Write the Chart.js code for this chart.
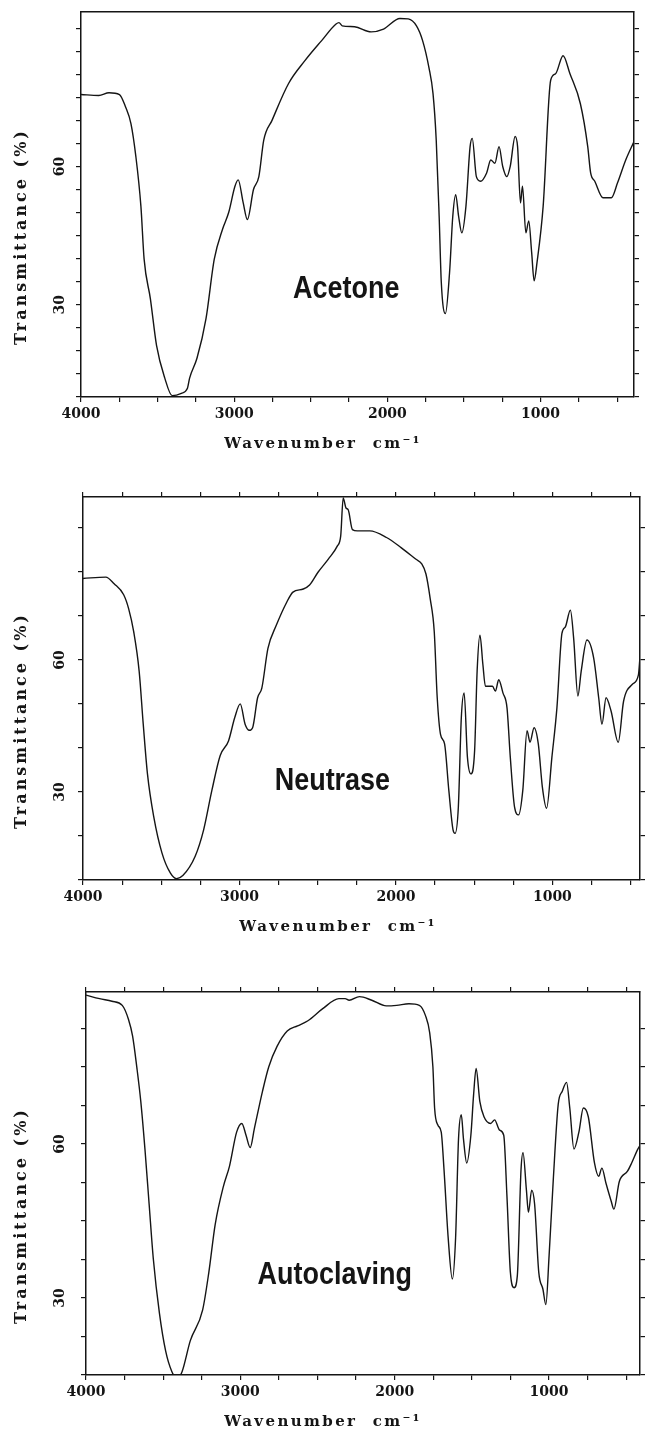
<!DOCTYPE html>
<html>
<head>
<meta charset="utf-8">
<script src="https://cdn.jsdelivr.net/npm/chart.js"></script>
<style>
  html, body { margin: 0; padding: 0; background: #fff; }
  body { width: 646px; height: 1439px; position: relative; overflow: hidden; }
  .panel { position: absolute; left: 0; width: 646px; }
</style>
</head>
<body>
<div class="panel" style="top:0;height:465px"><canvas id="c1"></canvas></div>
<div class="panel" style="top:465px;height:490px"><canvas id="c2"></canvas></div>
<div class="panel" style="top:955px;height:484px"><canvas id="c3"></canvas></div>
<script>
// tick labels
const xTickLabels = [4000, 3000, 2000, 1000];
const yTickLabels = [30, 60];

// Acetone spectrum (wavenumber, transmittance %)
const acetoneWn = [4000, 3884, 3817, 3749, 3709, 3674, 3642, 3609, 3588, 3547, 3507, 3453, 3405, 3345, 3305, 3291, 3243, 3184, 3130, 3076, 3036, 2995, 2974, 2941, 2914, 2874, 2839, 2807, 2753, 2645, 2537, 2429, 2335, 2316, 2295, 2214, 2106, 2025, 1918, 1864, 1810, 1770, 1729, 1702, 1681, 1662, 1648, 1621, 1594, 1573, 1554, 1535, 1514, 1487, 1460, 1446, 1419, 1392, 1352, 1325, 1298, 1271, 1247, 1220, 1198, 1166, 1150, 1131, 1118, 1096, 1077, 1058, 1042, 1023, 983, 934, 902, 853, 808, 740, 692, 673, 646, 592, 538, 498, 444, 390];
const acetoneT = [75.6, 75.4, 76.0, 75.6, 72.9, 69.3, 62.2, 51.4, 39.9, 31.3, 21.2, 14.1, 10.3, 10.8, 11.9, 14.1, 18.4, 27.0, 39.9, 46.4, 50.0, 55.7, 57.1, 52.1, 48.5, 55.0, 57.8, 65.7, 70.0, 78.0, 83.0, 87.3, 90.9, 91.2, 90.5, 90.3, 89.2, 89.8, 92.1, 92.0, 90.5, 87.3, 81.5, 75.8, 65.7, 49.2, 34.9, 28.1, 37.0, 49.2, 53.9, 49.2, 45.6, 51.4, 64.3, 66.1, 57.8, 56.8, 58.6, 61.4, 60.7, 64.3, 60.0, 57.8, 60.0, 66.5, 64.3, 52.1, 55.7, 45.6, 48.2, 41.3, 35.2, 39.2, 51.4, 78.7, 80.1, 84.0, 80.1, 73.6, 64.3, 58.6, 56.8, 53.2, 53.2, 56.4, 61.4, 65.4];

// Neutrase spectrum
const neutraseWn = [4000, 3854, 3801, 3740, 3708, 3676, 3641, 3615, 3588, 3548, 3495, 3442, 3402, 3362, 3283, 3229, 3176, 3123, 3070, 3030, 2995, 2964, 2937, 2916, 2884, 2857, 2818, 2764, 2698, 2658, 2592, 2552, 2498, 2432, 2374, 2353, 2337, 2319, 2305, 2278, 2246, 2167, 2060, 1967, 1874, 1835, 1808, 1781, 1755, 1736, 1715, 1689, 1662, 1635, 1622, 1601, 1582, 1564, 1543, 1521, 1497, 1481, 1463, 1444, 1428, 1383, 1364, 1343, 1316, 1290, 1269, 1242, 1216, 1189, 1162, 1143, 1117, 1090, 1064, 1037, 1003, 971, 939, 917, 885, 864, 837, 816, 779, 736, 704, 683, 657, 625, 579, 545, 490, 450, 440];
const neutraseT = [78.5, 78.8, 77.3, 74.8, 71.6, 66.4, 57.4, 45.4, 34.1, 24.4, 16.1, 11.6, 10.3, 11.0, 15.4, 21.4, 30.4, 38.3, 41.6, 46.9, 50.0, 45.4, 44.0, 44.6, 51.4, 53.6, 62.6, 67.9, 73.1, 75.4, 76.1, 77.0, 79.9, 82.9, 85.9, 88.1, 96.8, 94.5, 94.1, 89.6, 89.3, 89.3, 87.8, 85.5, 82.9, 81.8, 79.5, 73.9, 66.4, 51.4, 43.1, 40.9, 30.4, 21.4, 20.6, 26.6, 46.9, 52.5, 37.9, 34.1, 39.4, 57.4, 65.6, 58.9, 54.0, 54.0, 52.9, 55.5, 52.5, 49.1, 37.9, 26.6, 24.8, 30.4, 43.9, 41.3, 44.6, 40.9, 31.1, 26.3, 37.9, 49.1, 66.0, 67.5, 71.3, 64.9, 51.8, 57.4, 64.5, 60.4, 51.4, 45.4, 51.4, 48.4, 41.3, 50.6, 54.4, 56.6, 60.7];

// Autoclaving spectrum
const autoclavingWn = [4000, 3912, 3832, 3765, 3725, 3698, 3671, 3645, 3618, 3591, 3564, 3524, 3484, 3444, 3409, 3377, 3324, 3244, 3204, 3163, 3110, 3070, 3024, 2990, 2963, 2936, 2909, 2856, 2816, 2762, 2696, 2629, 2562, 2468, 2361, 2321, 2295, 2228, 2148, 2054, 1987, 1907, 1840, 1800, 1773, 1752, 1741, 1720, 1698, 1680, 1653, 1626, 1605, 1586, 1568, 1554, 1533, 1506, 1488, 1472, 1448, 1421, 1378, 1352, 1320, 1293, 1272, 1250, 1226, 1205, 1181, 1168, 1146, 1133, 1112, 1093, 1066, 1039, 1020, 999, 972, 940, 913, 886, 865, 838, 806, 777, 745, 705, 678, 657, 630, 598, 579, 544, 491, 464, 424, 410];
const autoclavingT = [89.0, 88.3, 87.8, 87.0, 84.3, 81.0, 75.0, 68.3, 59.0, 48.3, 37.7, 27.0, 19.7, 15.7, 14.3, 15.7, 21.7, 27.7, 35.0, 44.3, 51.7, 55.7, 62.3, 64.0, 61.7, 59.3, 63.0, 70.3, 75.0, 79.0, 82.0, 83.0, 84.0, 86.3, 88.3, 88.3, 88.0, 88.7, 88.0, 86.9, 87.0, 87.3, 87.0, 85.0, 81.7, 75.0, 67.0, 63.7, 62.3, 55.0, 41.7, 33.7, 41.7, 61.0, 65.7, 61.0, 56.3, 61.7, 69.7, 74.7, 68.3, 65.3, 64.0, 64.7, 62.7, 61.7, 49.7, 35.0, 32.0, 34.3, 55.0, 58.3, 51.0, 46.7, 51.0, 48.3, 35.0, 31.7, 28.7, 38.3, 53.0, 67.7, 70.3, 72.0, 67.0, 59.0, 62.3, 67.0, 65.3, 56.3, 53.7, 55.3, 52.3, 49.0, 47.3, 52.7, 54.7, 56.3, 59.0, 59.7];

const INK = '#151515';
const SERIF = '"DejaVu Serif", "Liberation Serif", serif';

// tick marks at every multiple of step inside the axis range
function stepTicks(scale, step) {
  const out = [];
  for (let v = Math.ceil(scale.min / step) * step; v <= scale.max + 1e-9; v += step) out.push({ value: v });
  scale.ticks = out;
}

// axis titles, rotated y tick labels and the sample name
const panelText = {
  id: 'panelText',
  afterDraw(chart, args, opts) {
    const { ctx, chartArea, scales } = chart;
    const xs = scales.x, ys = scales.y;
    ctx.save();
    ctx.fillStyle = INK;
    ctx.textAlign = 'center';
    ctx.textBaseline = 'middle';

    ctx.font = 'bold 14px ' + SERIF;
    yTickLabels.forEach(v => {
      ctx.save();
      ctx.translate(opts.yLabelX, ys.getPixelForValue(v));
      ctx.rotate(-Math.PI / 2);
      ctx.fillText(String(v), 0, 0);
      ctx.restore();
    });

    ctx.font = 'bold 16px ' + SERIF;
    ctx.letterSpacing = '3px';
    ctx.save();
    ctx.translate(22, (chartArea.top + chartArea.bottom) / 2 + 32);
    ctx.rotate(-Math.PI / 2);
    ctx.fillText('Transmittance (%)', 0, 0);
    ctx.restore();

    ctx.font = 'bold 15px ' + SERIF;
    ctx.letterSpacing = '2.4px';
    ctx.fillText('Wavenumber  cm\u207B\u00B9', opts.titleX, chartArea.bottom + 47);

    // condensed bold sample name
    ctx.letterSpacing = '0px';
    ctx.font = 'bold 31px "Liberation Sans", Arial, sans-serif';
    ctx.translate(xs.getPixelForValue(opts.nameAt[0]), ys.getPixelForValue(opts.nameAt[1]));
    ctx.scale(0.87, 1);
    ctx.fillText(opts.name, 0, 0);
    ctx.restore();
  }
};

function makePanel(id, cfg) {
  const axisLine = { color: INK, width: 1.5 };
  const tickGrid = { drawOnChartArea: false, drawTicks: true, tickLength: 5, color: INK, lineWidth: 1.2 };
  new Chart(document.getElementById(id), {
    type: 'line',
    data: {
      datasets: [{
        data: cfg.wn.map((w, i) => ({ x: w, y: cfg.t[i] })),
        borderColor: INK,
        borderWidth: 1.4,
        pointRadius: 0,
        fill: false,
        cubicInterpolationMode: 'monotone'
      }]
    },
    options: {
      responsive: true,
      maintainAspectRatio: false,
      animation: false,
      layout: { padding: 0 },
      plugins: {
        legend: { display: false },
        tooltip: { enabled: false },
        panelText: { name: cfg.name, nameAt: cfg.nameAt, titleX: cfg.titleX, yLabelX: 60 }
      },
      scales: {
        x: {
          type: 'linear', position: 'bottom', reverse: true,
          min: cfg.xMin, max: 4000,
          border: axisLine, grid: tickGrid,
          ticks: {
            autoSkip: false, maxRotation: 0, padding: 4,
            color: INK, font: { family: SERIF, size: 14, weight: 'bold' },
            callback: v => xTickLabels.includes(v) ? String(v) : ''
          },
          afterBuildTicks: s => stepTicks(s, 250),
          afterFit: s => { s.height = cfg.bottomH; }
        },
        x2: {
          type: 'linear', position: 'top', reverse: true,
          min: cfg.xMin, max: 4000,
          border: axisLine, grid: { ...tickGrid, drawTicks: cfg.topTicks },
          ticks: { display: false },
          afterBuildTicks: s => stepTicks(s, 250),
          afterFit: s => { s.height = cfg.topH; }
        },
        y: {
          type: 'linear', position: 'left',
          min: cfg.yMin, max: cfg.yMax,
          border: axisLine, grid: tickGrid,
          ticks: { display: false },
          afterBuildTicks: s => stepTicks(s, cfg.yStep),
          afterFit: s => { s.width = cfg.leftW; }
        },
        y2: {
          type: 'linear', position: 'right',
          min: cfg.yMin, max: cfg.yMax,
          border: axisLine, grid: tickGrid,
          ticks: { display: false },
          afterBuildTicks: s => stepTicks(s, cfg.yStep),
          afterFit: s => { s.width = cfg.rightW; }
        }
      }
    },
    plugins: [panelText]
  });
}

makePanel('c1', { wn: acetoneWn, t: acetoneT, name: 'Acetone', nameAt: [2268, 33.4], topTicks: false,
  xMin: 390, yMin: 10, yMax: 93.5, yStep: 5, topH: 12, bottomH: 68, leftW: 81, rightW: 12, titleX: 323 });
makePanel('c2', { wn: neutraseWn, t: neutraseT, name: 'Neutrase', nameAt: [2406, 32.3], topTicks: true,
  xMin: 440, yMin: 10, yMax: 97, yStep: 10, topH: 32, bottomH: 75, leftW: 83, rightW: 6, titleX: 338 });
makePanel('c3', { wn: autoclavingWn, t: autoclavingT, name: 'Autoclaving', nameAt: [2388, 34.3], topTicks: true,
  xMin: 410, yMin: 15, yMax: 89.6, yStep: 7.5, topH: 37, bottomH: 64, leftW: 86, rightW: 6, titleX: 323 });
</script>
</body>
</html>
